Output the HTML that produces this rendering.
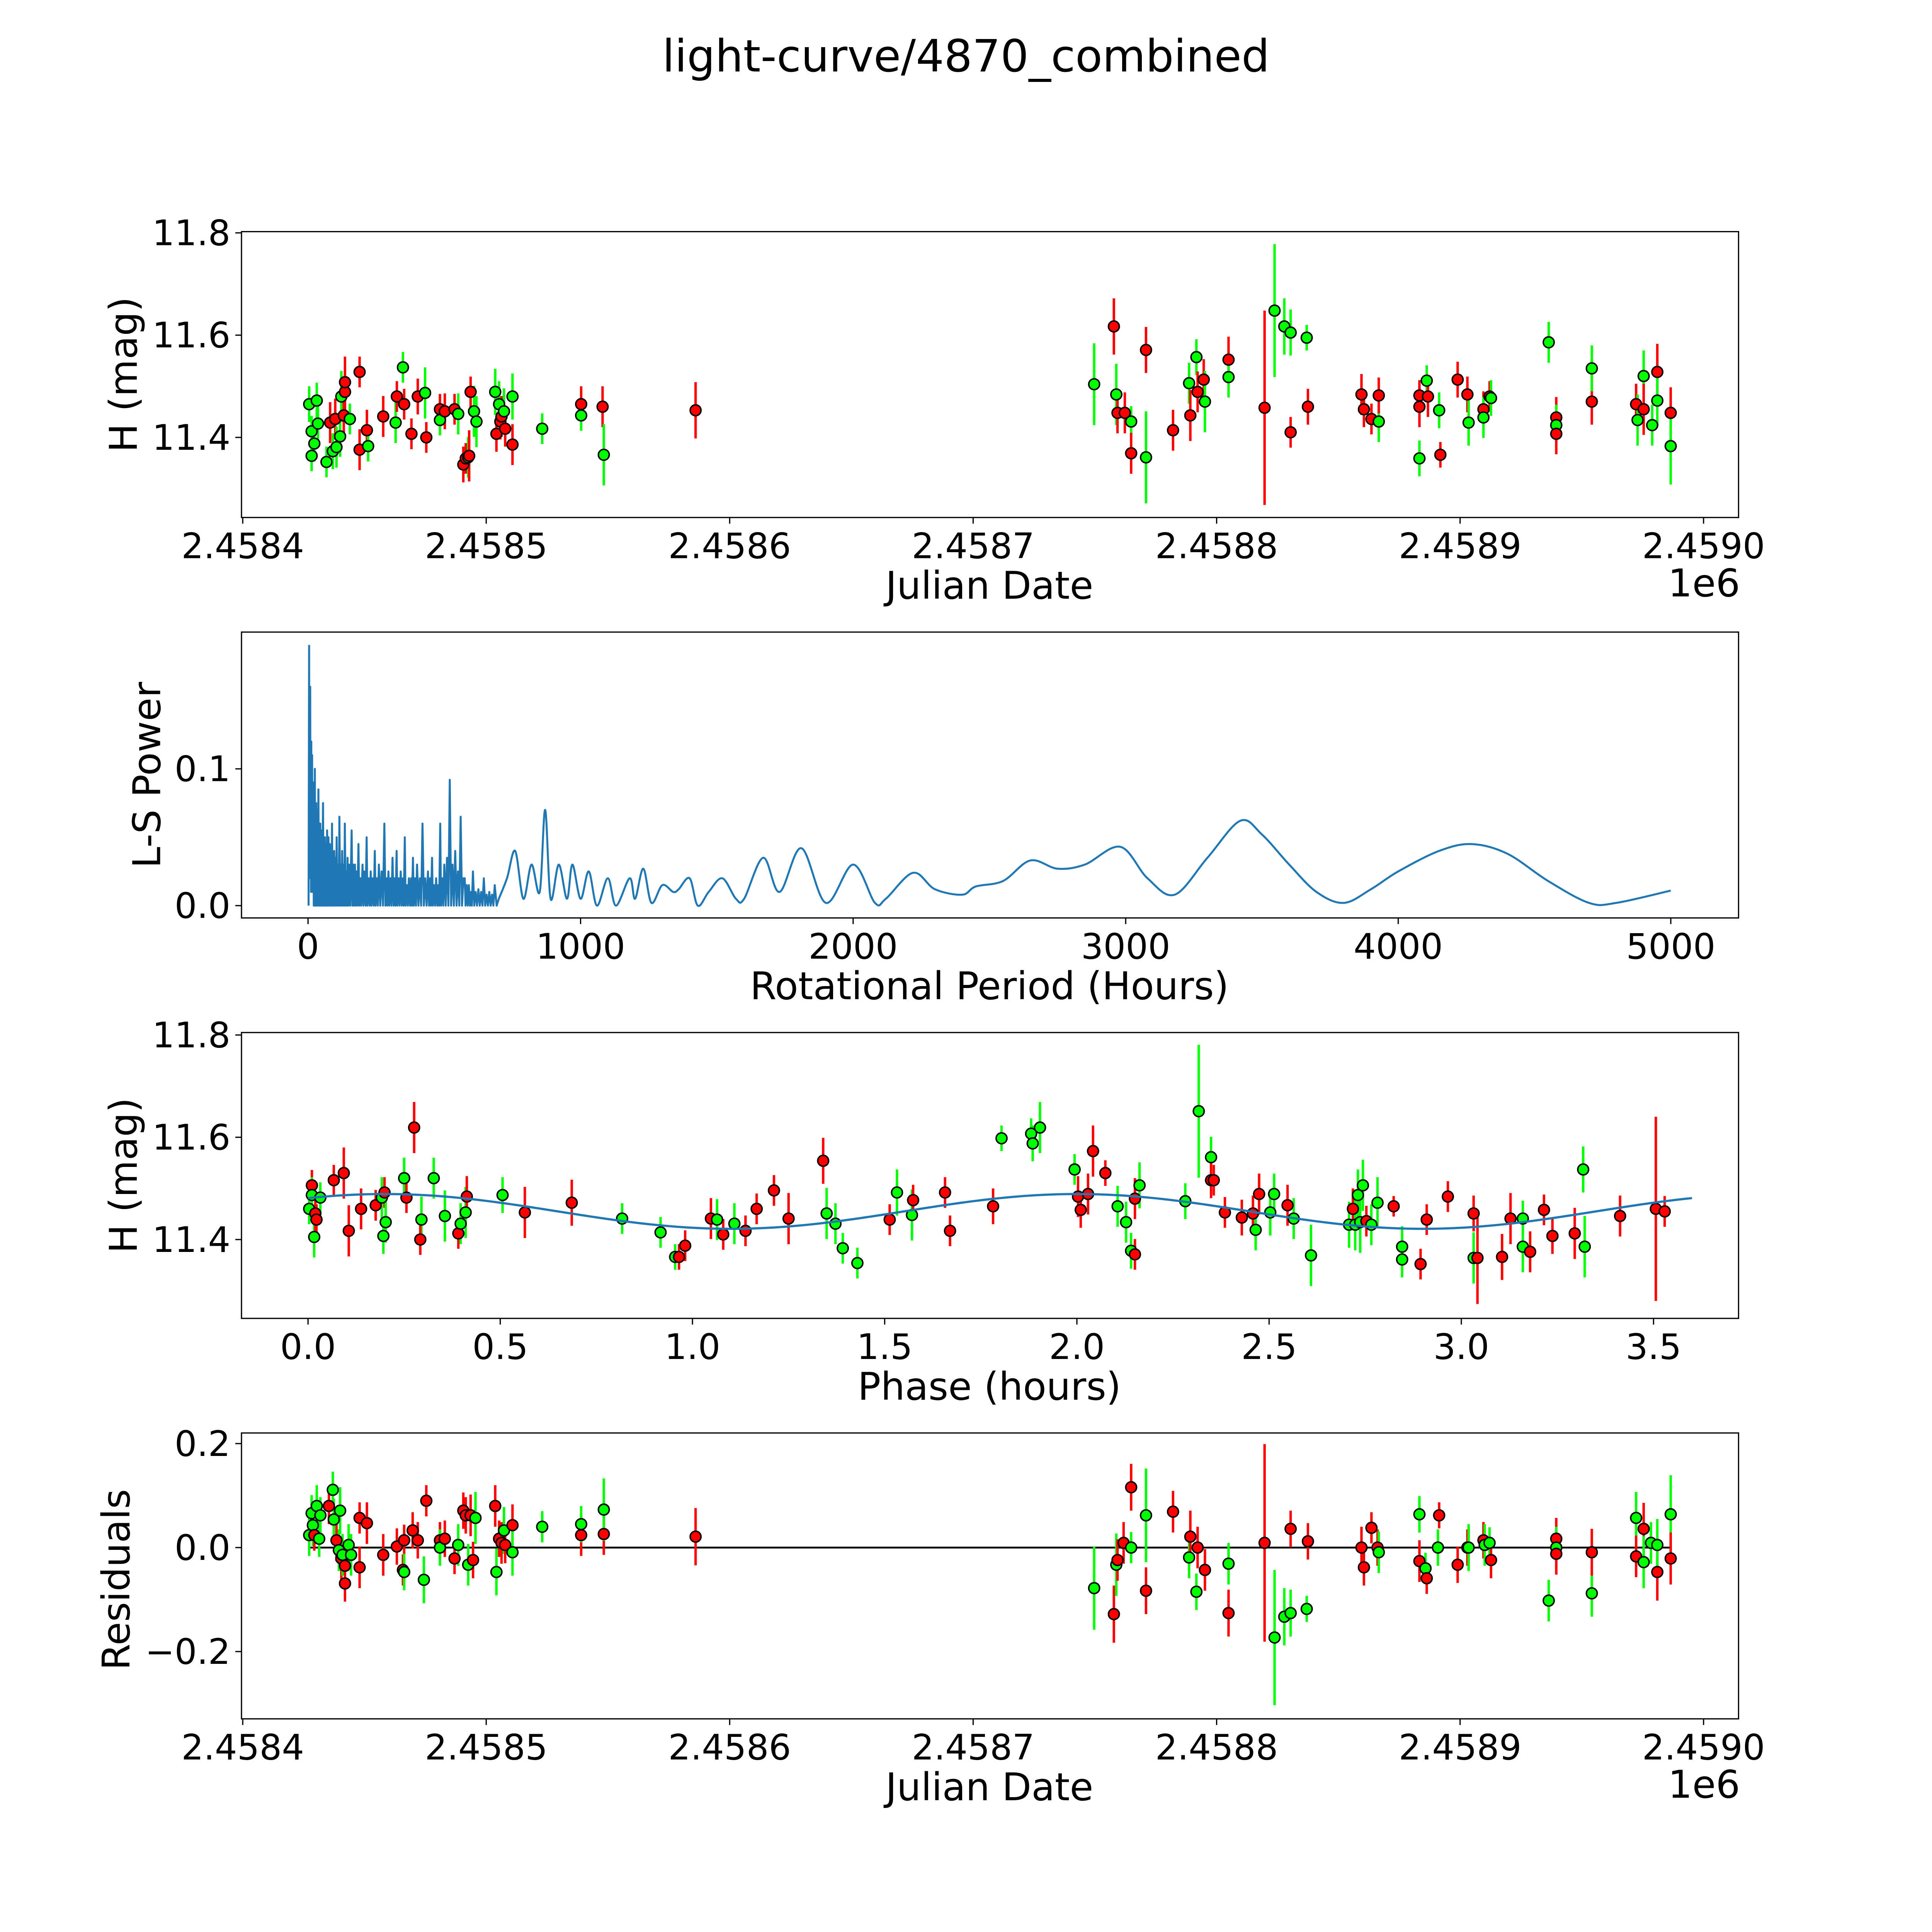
<!DOCTYPE html>
<html><head><meta charset="utf-8"><style>
html,body{margin:0;padding:0;background:#fff;overflow:hidden;width:100%;height:100%}
svg{display:block;width:100vw;height:100vh}
text{font-family:"DejaVu Sans","Liberation Sans",sans-serif;fill:#000}
</style></head><body>
<svg id="fig" xmlns="http://www.w3.org/2000/svg" viewBox="0 0 1568 1568" preserveAspectRatio="none">
<rect x="0" y="0" width="1568" height="1568" fill="#fff"/>
<text x="784" y="58" font-size="36" text-anchor="middle">light-curve/4870_combined</text>
<g id="g1"></g>
<g id="g2"></g>
<g id="g3"></g>
<g id="g4"></g>
</svg>
<script>
// ---- data ----
const lcPoints=[[27.3,11.465,.035,'g'],[28.3,11.412,.03,'g'],[28.3,11.364,.03,'g'],[29.4,11.388,.035,'g'],[30.4,11.472,.035,'g'],[30.9,11.427,.04,'g'],[34.4,11.352,.03,'g'],[35.9,11.429,.04,'r'],[37,11.373,.035,'g'],[38,11.436,.04,'r'],[38.5,11.381,.04,'g'],[40,11.402,.04,'g'],[40.5,11.48,.05,'g'],[41.5,11.443,.04,'r'],[42,11.489,.04,'r'],[42,11.508,.05,'r'],[44,11.436,.03,'g'],[48,11.376,.04,'r'],[48,11.528,.03,'r'],[51,11.414,.04,'r'],[51.5,11.383,.03,'g'],[57.7,11.441,.04,'r'],[62.8,11.429,.04,'g'],[63.3,11.48,.03,'r'],[65.8,11.537,.03,'g'],[66.3,11.465,.03,'r'],[69.3,11.407,.03,'r'],[71.9,11.48,.035,'r'],[74.9,11.487,.05,'g'],[75.4,11.4,.03,'r'],[81,11.434,.03,'g'],[81,11.455,.03,'r'],[83,11.451,.035,'r'],[87,11.455,.03,'r'],[88.5,11.446,.04,'g'],[90.6,11.347,.035,'r'],[91.6,11.359,.03,'r'],[92.6,11.361,.04,'g'],[93,11.364,.05,'r'],[93.6,11.489,.03,'r'],[95,11.451,.05,'g'],[96,11.431,.05,'g'],[103.7,11.489,.045,'g'],[104.2,11.407,.035,'r'],[105.3,11.465,.045,'g'],[105.8,11.431,.035,'r'],[106.3,11.441,.04,'r'],[107.3,11.451,.045,'g'],[107.8,11.417,.035,'r'],[110.8,11.386,.04,'r'],[110.8,11.48,.045,'g'],[123,11.417,.03,'g'],[139,11.465,.035,'r'],[139,11.443,.03,'g'],[147.8,11.46,.04,'r'],[148.3,11.366,.06,'g'],[186,11.453,.055,'r'],
[349.7,11.504,.08,'g'],[357.8,11.617,.055,'r'],[358.8,11.484,.06,'g'],[359.3,11.448,.04,'r'],[362.3,11.448,.04,'r'],[364.9,11.431,.03,'g'],[364.9,11.369,.04,'r'],[371,11.361,.09,'g'],[371,11.571,.045,'r'],[382.1,11.414,.04,'r'],[388.7,11.506,.04,'g'],[389.2,11.443,.05,'r'],[391.7,11.557,.035,'g'],[392.2,11.489,.04,'r'],[394.7,11.513,.04,'r'],[395.2,11.47,.06,'g'],[404.9,11.552,.045,'r'],[404.9,11.518,.04,'g'],[419.7,11.458,.19,'r'],[423.8,11.648,.13,'g'],[427.8,11.617,.055,'g'],[430.4,11.605,.045,'g'],[430.4,11.41,.03,'r'],[437,11.595,.025,'g'],[437.5,11.46,.035,'r'],[459.5,11.484,.04,'r'],[460.5,11.455,.035,'r'],[463.6,11.436,.03,'r'],[466.6,11.431,.04,'g'],[466.6,11.482,.035,'r'],[483.3,11.46,.04,'r'],[483.3,11.482,.03,'r'],[483.3,11.359,.035,'g'],[486.3,11.511,.03,'g'],[486.8,11.48,.04,'r'],[491.4,11.453,.035,'g'],[491.9,11.366,.025,'r'],[499,11.513,.035,'r'],[503,11.484,.035,'r'],[503.5,11.429,.045,'g'],[509.6,11.455,.035,'r'],[509.6,11.439,.04,'g'],[512.1,11.48,.03,'r'],[512.7,11.477,.035,'g'],[536.4,11.586,.04,'g'],[539.5,11.439,.04,'r'],[539.5,11.424,.04,'g'],[539.5,11.407,.04,'r'],[554.1,11.47,.045,'r'],[554.1,11.535,.045,'g'],[572.3,11.465,.04,'r'],[572.9,11.434,.05,'g'],[575.4,11.52,.05,'g'],[575.4,11.455,.05,'r'],[578.9,11.424,.04,'g'],[581,11.528,.055,'r'],[581,11.472,.05,'g'],[586.5,11.448,.05,'r'],[586.5,11.383,.075,'g']];
const psPeaks=[[2,0.0],[4,0.19],[5,0.02],[6,0.13],[7,0.03],[8,0.16],[9,0.02],[10,0.12],[11,0.01],[12,0.12],[13,0.02],[14,0.1],[15,0.11],[16,0.01],[17,0.09],[18,0.01],[20,0.09],[21,0.0],[23,0.08],[24,0.0],[25,0.1],[26,0.0],[28,0.07],[29,0.0],[30,0.075],[32,0.0],[34,0.07],[36,0.0],[38,0.085],[40,0.0],[42,0.06],[43,0.0],[45,0.06],[47,0.0],[50,0.055],[52,0.0],[55,0.075],[57,0],[59,0.04],[60,0],[62,0.05],[64,0],[66,0.045],[68,0],[70,0.055],[72,0],[75,0.05],[77,0],[80,0.045],[82,0],[84,0.04],[86,0],[88,0.06],[90,0],[92,0.03],[94,0],[96,0.04],[98,0],[101,0.035],[103,0],[105,0.05],[108,0],[111,0.03],[113,0],[115,0.065],[118,0],[121,0.03],[123,0],[125,0.04],[128,0],[131,0.03],[133,0],[135,0.06],[138,0],[141,0.025],[143,0],[145,0.035],[148,0],[152,0.03],[155,0],[160,0.055],[163,0],[166,0.03],[169,0],[172,0.03],[175,0],[178,0.025],[181,0],[185,0.045],[188,0],[192,0.02],[195,0],[200,0.03],[203,0],[207,0.025],[211,0],[215,0.05],[218,0],[222,0.02],[226,0],[230,0.025],[233,0],[237,0.02],[241,0],[245,0.04],[248,0],[252,0.02],[256,0],[260,0.03],[265,0],[270,0.025],[275,0],[280,0.06],[284,0],[288,0.02],[291,0],[295,0.025],[298,0],[302,0.02],[306,0],[310,0.035],[314,0],[318,0.02],[321,0],[325,0.04],[328,0],[332,0.02],[336,0],[340,0.025],[344,0],[348,0.02],[351,0],[355,0.05],[358,0],[362,0.015],[366,0],[370,0.02],[374,0],[378,0.02],[381,0],[385,0.035],[388,0],[392,0.02],[396,0],[400,0.03],[405,0],[410,0.02],[415,0],[420,0.06],[425,0],[430,0.02],[435,0],[440,0.025],[444,0],[448,0.02],[451,0],[455,0.035],[458,0],[462,0.015],[466,0],[470,0.02],[474,0],[478,0.015],[481,0],[485,0.06],[488,0],[492,0.02],[496,0],[500,0.03],[505,0],[510,0.035],[515,0],[520,0.092],[525,0],[530,0.03],[535,0],[540,0.04],[545,0],[550,0.025],[555,0],[560,0.065],[565,0],[570,0.02],[575,0.02],[578,0],[582,0.015],[586,0],[590,0.015],[594,0],[598,0.01],[601,0],[605,0.025],[610,0],[615,0.01],[620,0],[625,0.012],[630,0],[635,0.01],[640,0],[645,0.02],[650,0],[655,0.008],[660,0],[665,0.01],[670,0],[675,0.008],[680,0],[685,0.015],[692,0]];
const psSmooth=[[700,0.005],[730,0.02],[760,0.04],[790,0.005],[820,0.03],[850,0.01],[870,0.07],[890,0.005],[920,0.03],[950,0.005],[970,0.03],[1000,0.005],[1030,0.025],[1060,0.0],[1100,0.02],[1130,0.0],[1180,0.02],[1200,0.005],[1230,0.027],[1260,0.002],[1300,0.015],[1340,0.01],[1360,0.012],[1400,0.02],[1430,0.0],[1470,0.01],[1520,0.02],[1570,0.005],[1600,0.005],[1670,0.035],[1730,0.01],[1810,0.042],[1900,0.002],[2000,0.03],[2080,0.002],[2120,0.005],[2220,0.024],[2300,0.012],[2400,0.008],[2450,0.014],[2550,0.018],[2650,0.033],[2750,0.027],[2850,0.03],[2980,0.043],[3080,0.02],[3180,0.008],[3300,0.035],[3420,0.062],[3500,0.052],[3600,0.03],[3700,0.01],[3800,0.002],[3900,0.012],[4000,0.025],[4150,0.04],[4270,0.045],[4400,0.038],[4550,0.018],[4700,0.002],[4800,0.002],[5000,0.011]];
const phPoints=[[0.003,11.46,.03,'g'],[0.01,11.506,.03,'r'],[0.01,11.487,.035,'g'],[0.016,11.405,.04,'g'],[0.019,11.451,.04,'r'],[0.022,11.439,.03,'r'],[0.032,11.482,.03,'g'],[0.067,11.516,.03,'r'],[0.093,11.53,.05,'r'],[0.106,11.417,.05,'r'],[0.138,11.46,.04,'r'],[0.176,11.467,.03,'r'],[0.192,11.482,.04,'g'],[0.196,11.407,.035,'g'],[0.199,11.492,.03,'r'],[0.202,11.434,.04,'g'],[0.25,11.52,.04,'g'],[0.256,11.482,.03,'r'],[0.276,11.619,.05,'r'],[0.295,11.439,.045,'g'],[0.292,11.4,.03,'r'],[0.327,11.52,.04,'g'],[0.356,11.446,.05,'g'],[0.391,11.412,.03,'r'],[0.397,11.431,.04,'g'],[0.41,11.453,.05,'g'],[0.413,11.484,.04,'r'],[0.506,11.487,.035,'g'],[0.564,11.453,.05,'r'],[0.686,11.472,.045,'r'],[0.817,11.441,.03,'g'],[0.917,11.414,.03,'g'],[0.955,11.366,.025,'g'],[0.965,11.366,.025,'r'],[0.981,11.388,.03,'r'],[1.048,11.441,.04,'r'],[1.064,11.439,.04,'g'],[1.08,11.41,.03,'r'],[1.109,11.431,.04,'g'],[1.138,11.417,.03,'r'],[1.167,11.46,.03,'r'],[1.212,11.496,.03,'r'],[1.25,11.441,.05,'r'],[1.34,11.554,.045,'r'],[1.349,11.451,.05,'g'],[1.372,11.431,.04,'g'],[1.391,11.383,.03,'g'],[1.429,11.354,.03,'g'],[1.513,11.439,.03,'r'],[1.532,11.492,.045,'g'],[1.571,11.448,.05,'g'],[1.574,11.477,.03,'r'],[1.657,11.492,.03,'r'],[1.67,11.417,.03,'r'],[1.782,11.465,.035,'r'],[1.804,11.598,.025,'g'],[1.881,11.607,.03,'g'],[1.885,11.588,.035,'g'],[1.904,11.619,.05,'g'],[1.994,11.537,.03,'g'],[2.003,11.484,.04,'r'],[2.01,11.458,.035,'r'],[2.029,11.489,.04,'r'],[2.042,11.573,.05,'r'],[2.074,11.53,.025,'r'],[2.106,11.465,.04,'g'],[2.128,11.434,.04,'g'],[2.141,11.378,.035,'g'],[2.151,11.371,.03,'r'],[2.151,11.48,.04,'r'],[2.163,11.506,.045,'g'],[2.282,11.475,.035,'g'],[2.317,11.651,.13,'g'],[2.349,11.561,.04,'g'],[2.349,11.516,.035,'r'],[2.356,11.516,.03,'r'],[2.385,11.453,.03,'r'],[2.429,11.443,.035,'r'],[2.458,11.451,.035,'r'],[2.465,11.419,.04,'g'],[2.474,11.489,.04,'r'],[2.503,11.453,.045,'g'],[2.513,11.489,.04,'g'],[2.548,11.467,.04,'r'],[2.564,11.441,.04,'g'],[2.609,11.369,.06,'g'],[2.708,11.429,.045,'g'],[2.718,11.46,.04,'r'],[2.724,11.429,.05,'g'],[2.731,11.487,.05,'g'],[2.737,11.434,.06,'g'],[2.744,11.506,.05,'g'],[2.753,11.436,.03,'r'],[2.766,11.429,.04,'g'],[2.782,11.472,.05,'g'],[2.824,11.465,.02,'r'],[2.846,11.386,.04,'g'],[2.846,11.361,.035,'g'],[2.894,11.352,.03,'r'],[2.91,11.439,.03,'r'],[2.965,11.484,.03,'r'],[3.032,11.451,.035,'r'],[3.032,11.364,.05,'g'],[3.042,11.364,.09,'r'],[3.106,11.366,.045,'r'],[3.128,11.441,.05,'r'],[3.16,11.441,.035,'g'],[3.16,11.386,.05,'g'],[3.179,11.376,.04,'r'],[3.215,11.458,.03,'r'],[3.237,11.407,.035,'r'],[3.295,11.412,.05,'r'],[3.317,11.537,.045,'g'],[3.321,11.386,.06,'g'],[3.413,11.446,.04,'r'],[3.506,11.46,.18,'r'],[3.529,11.455,.03,'r']];
const fitMean=11.455, fitAmp=0.034, fitPeriod=1.8, fitPeak=2.0, phaseMax=3.6;
const resPoints=[[27.3,0.024,.04,'g'],[28.3,0.066,.035,'g'],[28.8,0.043,.04,'g'],[29.4,0.024,.03,'r'],[30.4,0.08,.04,'g'],[31.4,0.017,.035,'g'],[31.9,0.062,.035,'g'],[35.4,0.08,.035,'r'],[37,0.111,.035,'g'],[37.4,0.054,.04,'g'],[38.5,0.014,.04,'r'],[39.5,-0.005,.04,'g'],[40,0.071,.045,'g'],[40.5,-0.021,.04,'r'],[41,-0.014,.04,'g'],[42,-0.035,.04,'r'],[42,-0.069,.035,'r'],[43.5,0.005,.04,'g'],[44.5,-0.014,.04,'g'],[48,0.057,.03,'r'],[48,-0.038,.04,'r'],[51,0.047,.04,'r'],[57.7,-0.014,.04,'r'],[63.3,0.002,.035,'r'],[65.8,-0.043,.03,'r'],[66.3,0.014,.03,'r'],[66.3,-0.047,.035,'g'],[69.8,0.033,.035,'r'],[71.9,0.014,.035,'r'],[74.4,-0.062,.045,'g'],[75.4,0.09,.03,'r'],[81,0.014,.035,'r'],[81,0.0,.035,'g'],[83,0.017,.035,'r'],[87,-0.021,.03,'r'],[88.5,0.005,.04,'g'],[90.6,0.071,.035,'r'],[91.6,0.062,.035,'r'],[92.6,-0.033,.04,'g'],[93.6,0.062,.04,'r'],[94.6,-0.024,.035,'r'],[95.6,0.057,.05,'g'],[103.7,0.08,.04,'r'],[104.2,-0.047,.045,'g'],[105.3,0.017,.035,'r'],[106.3,0.009,.04,'r'],[107.3,0.033,.045,'g'],[107.8,0.005,.035,'r'],[110.8,0.043,.04,'r'],[110.8,-0.009,.045,'g'],[123,0.04,.03,'g'],[139,0.024,.04,'r'],[139,0.045,.035,'g'],[148.3,0.026,.04,'r'],[148.3,0.073,.06,'g'],[186,0.021,.055,'r'],
[349.7,-0.078,.08,'g'],[357.8,-0.128,.055,'r'],[358.8,-0.033,.06,'g'],[359.3,-0.024,.04,'r'],[361.8,0.009,.04,'r'],[364.9,0.0,.03,'g'],[364.9,0.116,.045,'r'],[371,0.062,.09,'g'],[371,-0.083,.045,'r'],[382.1,0.069,.04,'r'],[388.7,-0.019,.04,'g'],[389.2,0.021,.05,'r'],[391.7,-0.085,.035,'g'],[392.2,0.0,.04,'r'],[395.2,-0.043,.04,'r'],[404.9,-0.126,.045,'r'],[404.9,-0.031,.04,'g'],[419.7,0.009,.19,'r'],[423.8,-0.173,.13,'g'],[427.8,-0.133,.055,'g'],[430.4,-0.126,.045,'g'],[430.4,0.036,.035,'r'],[437,-0.118,.025,'g'],[437.5,0.012,.035,'r'],[459.5,0.0,.04,'r'],[460.5,-0.038,.035,'r'],[463.6,0.038,.03,'r'],[466.1,0.0,.035,'r'],[466.6,-0.009,.04,'g'],[483.3,0.064,.035,'g'],[483.3,-0.026,.04,'r'],[485.8,-0.04,.03,'g'],[486.3,-0.059,.03,'r'],[490.9,0.0,.035,'g'],[491.4,0.062,.025,'r'],[499,-0.033,.035,'r'],[503,0.0,.035,'r'],[503.5,0.0,.045,'g'],[509.6,0.014,.035,'r'],[510.1,0.005,.04,'g'],[512.1,0.009,.03,'g'],[512.7,-0.024,.035,'r'],[536.4,-0.102,.04,'g'],[539.5,0.017,.04,'r'],[539.5,0.0,.04,'g'],[539.5,-0.012,.04,'r'],[554.1,-0.088,.045,'g'],[554.1,-0.009,.045,'r'],[572.3,0.057,.05,'g'],[572.3,-0.017,.04,'r'],[575.4,0.036,.05,'r'],[575.4,-0.028,.05,'g'],[578.4,0.009,.04,'g'],[581,-0.047,.055,'r'],[581,0.005,.05,'g'],[586.5,0.064,.075,'g'],[586.5,-0.021,.05,'r']];
const jdTicks=[0,100,200,300,400,500,600];
const jdTickLabels=['2.4584','2.4585','2.4586','2.4587','2.4588','2.4589','2.4590'];
const magTicks=[11.4,11.6,11.8];
const magTickLabels=['11.4','11.6','11.8'];
const psXTicks=[0,1000,2000,3000,4000,5000];
const psYTicks=[0,0.1];
const psYTickLabels=['0.0','0.1'];
const phTicks=[0,0.5,1,1.5,2,2.5,3,3.5];
const phTickLabels=['0.0','0.5','1.0','1.5','2.0','2.5','3.0','3.5'];
const resTicks=[-0.2,0,0.2];
const resTickLabels=['\u22120.2','0.0','0.2'];

// ---- scales ----
const xJ=d=>197+d*1.976;
const y1=m=>355-(m-11.4)*415;
const xP=p=>250+p*0.2212;
const y2=v=>735-v*1110;
const xPh=p=>250+p*312;
const y3=m=>1006-(m-11.4)*415;
const y4=r=>1256-r*422;

const NS='http://www.w3.org/2000/svg';
function mk(tag,parent,attrs){const e=document.createElementNS(NS,tag);for(const k in attrs)e.setAttribute(k,attrs[k]);parent.appendChild(e);return e;}
const COL={g:'#00ff00',r:'#ff0000'};
const TF=28.5, LF=31;

function frame(g,x0,y0,x1,y1_,name){
  const r=mk('rect',g,{x:x0,y:y0,width:x1-x0,height:y1_-y0,fill:'none',stroke:'#000','stroke-width':1});
  
  
}
function xtick(g,x,yb,label){
  const l=mk('line',g,{x1:x,x2:x,y1:yb,y2:yb+5,stroke:'#000','stroke-width':1});
  
  
  const t=mk('text',g,{x:x,y:yb+33,'font-size':TF,'text-anchor':'middle'});t.textContent=label;
  
  
}
function ytick(g,xl,y,label){
  const l=mk('line',g,{x1:xl-5,x2:xl,y1:y,y2:y,stroke:'#000','stroke-width':1});
  
  
  const t=mk('text',g,{x:xl-9,y:y+10,'font-size':TF,'text-anchor':'end'});t.textContent=label;
  
  
}
function label(g,x,y,txt,rot,name){
  const t=mk('text',g,{x:x,y:y,'font-size':LF,'text-anchor':'middle'});
  if(rot)t.setAttribute('transform','rotate(-90 '+x+' '+y+')');
  t.textContent=txt;
  
  
}
function points(g,arr,fx,fy){
  for(const p of arr){
    const x=fx(p[0]);
    const e=mk('line',g,{x1:x,x2:x,y1:fy(p[1]+p[2]),y2:fy(p[1]-p[2]),stroke:COL[p[3]],'stroke-width':2});
    
    
  }
  for(const p of arr){
    const c=mk('circle',g,{cx:fx(p[0]),cy:fy(p[1]),r:4.4,fill:COL[p[3]],stroke:'#000','stroke-width':1.2});
    
    
  }
}

// Panel 1
const g1=document.getElementById('g1');
frame(g1,196,188,1411,420,'light-curve-axes');
jdTicks.forEach((d,i)=>xtick(g1,xJ(d),420,jdTickLabels[i]));
magTicks.forEach((m,i)=>ytick(g1,196,y1(m),magTickLabels[i]));
label(g1,803,486,'Julian Date',false,'x-axis-title');
label(g1,1383,484,'1e6',false,'x-axis-offset');
label(g1,111,304,'H (mag)',true,'y-axis-title');
points(g1,lcPoints,xJ,y1);

// Panel 2
const g2=document.getElementById('g2');
frame(g2,196,513,1411,745,'periodogram-axes');
psXTicks.forEach(p=>xtick(g2,xP(p),745,String(p)));
psYTicks.forEach((v,i)=>ytick(g2,196,y2(v),psYTickLabels[i]));
label(g2,803,811,'Rotational Period (Hours)',false,'x-axis-title');
label(g2,130,629,'L-S Power',true,'y-axis-title');
let d='';
psPeaks.forEach((p,i)=>{d+=(i?'L':'M')+xP(p[0]).toFixed(2)+' '+y2(p[1]).toFixed(2);});
const sp=psSmooth.map(p=>[xP(p[0]),y2(p[1])]);
d+='L'+sp[0][0].toFixed(2)+' '+sp[0][1].toFixed(2);
for(let i=0;i<sp.length-1;i++){
  const p0=sp[Math.max(i-1,0)],p1=sp[i],p2=sp[i+1],p3=sp[Math.min(i+2,sp.length-1)];
  const c1=[p1[0]+(p2[0]-p0[0])/6,p1[1]+(p2[1]-p0[1])/6];
  const c2=[p2[0]-(p3[0]-p1[0])/6,p2[1]-(p3[1]-p1[1])/6];
  d+='C'+c1[0].toFixed(2)+' '+c1[1].toFixed(2)+' '+c2[0].toFixed(2)+' '+c2[1].toFixed(2)+' '+p2[0].toFixed(2)+' '+p2[1].toFixed(2);
}
const pl=mk('path',g2,{d:d,fill:'none',stroke:'#1f77b4','stroke-width':1.6,'stroke-linejoin':'round'});



// Panel 3
const g3=document.getElementById('g3');
frame(g3,196,838,1411,1070,'phase-axes');
phTicks.forEach((p,i)=>xtick(g3,xPh(p),1070,phTickLabels[i]));
magTicks.forEach((m,i)=>ytick(g3,196,y3(m),magTickLabels[i]));
label(g3,803,1136,'Phase (hours)',false,'x-axis-title');
label(g3,111,954,'H (mag)',true,'y-axis-title');
points(g3,phPoints,xPh,y3);
let fd='';
for(let i=0;i<=360;i++){const ph=phaseMax*i/360;const m=fitMean+fitAmp*Math.cos(2*Math.PI*(ph-fitPeak)/fitPeriod);fd+=(i?'L':'M')+xPh(ph).toFixed(2)+' '+y3(m).toFixed(2);}
const fl=mk('path',g3,{d:fd,fill:'none',stroke:'#1f77b4','stroke-width':1.8});



// Panel 4
const g4=document.getElementById('g4');
frame(g4,196,1163,1411,1395,'residuals-axes');
jdTicks.forEach((dd,i)=>xtick(g4,xJ(dd),1395,jdTickLabels[i]));
resTicks.forEach((r,i)=>ytick(g4,196,y4(r),resTickLabels[i]));
label(g4,803,1461,'Julian Date',false,'x-axis-title');
label(g4,1383,1459,'1e6',false,'x-axis-offset');
label(g4,105,1282,'Residuals',true,'y-axis-title');
const zl=mk('line',g4,{x1:xJ(27),x2:xJ(587),y1:y4(0),y2:y4(0),stroke:'#000','stroke-width':1.5});


points(g4,resPoints,xJ,y4);
</script>
</body></html>
